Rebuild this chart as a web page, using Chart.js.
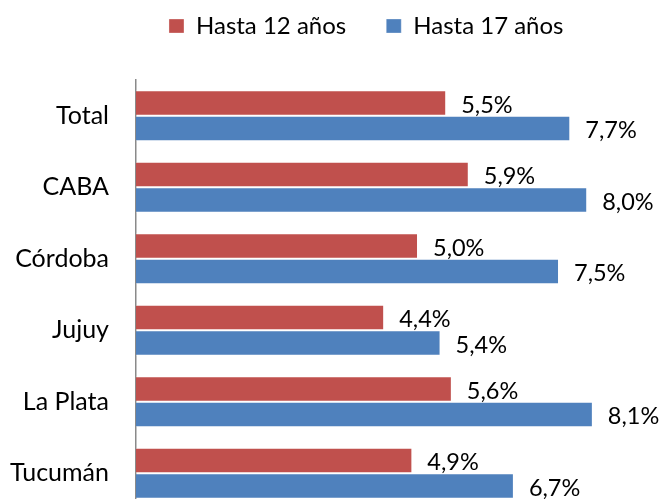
<!DOCTYPE html>
<html>
<head>
<meta charset="utf-8">
<script src="https://cdn.jsdelivr.net/npm/chart.js@4/dist/chart.umd.min.js"></script>
<style>
  html, body { margin: 0; padding: 0; background: #fff; overflow: hidden; }
  canvas { display: block; }
</style>
</head>
<body>
<canvas id="c" width="667" height="551"></canvas>
<script>
const categories = ['Total', 'CABA', 'Córdoba', 'Jujuy', 'La Plata', 'Tucumán'];
const seriesNames = ['Hasta 12 años', 'Hasta 17 años'];
const hasta12 = [5.5, 5.9, 5.0, 4.4, 5.6, 4.9];
const hasta17 = [7.7, 8.0, 7.5, 5.4, 8.1, 6.7];

const FONT = 'Lato';
const LEGEND_SHIFT = 67;

const layoutTweak = {
  id: 'layoutTweak',
  beforeLayout(chart) {
    const lg = chart.legend;
    if (lg && !lg._tw) {
      const f = lg.fit;
      lg.fit = function () { f.call(this); this.height = 106; };
      lg._tw = true;
    }
  },
  beforeDraw(chart) {
    const lg = chart.legend;
    if (lg) { lg.left += LEGEND_SHIFT; lg.right += LEGEND_SHIFT; }
  },
  afterDraw(chart) {
    const lg = chart.legend;
    if (lg) { lg.left -= LEGEND_SHIFT; lg.right -= LEGEND_SHIFT; }
  }
};

const valueLabels = {
  id: 'valueLabels',
  afterDatasetsDraw(chart) {
    const ctx = chart.ctx;
    ctx.save();
    ctx.font = '23.5px ' + FONT;
    ctx.fillStyle = '#000';
    ctx.textAlign = 'left';
    ctx.textBaseline = 'middle';
    chart.data.datasets.forEach((ds, di) => {
      const meta = chart.getDatasetMeta(di);
      meta.data.forEach((bar, i) => {
        const v = ds.data[i];
        const txt = v.toFixed(1).replace('.', ',') + '%';
        ctx.fillText(txt, bar.x + 15, bar.y + 2);
      });
    });
    ctx.restore();
  }
};

new Chart(document.getElementById('c'), {
  type: 'bar',
  data: {
    labels: categories,
    datasets: [
      { label: seriesNames[0], data: hasta12, backgroundColor: '#C0504D',
        borderColor: 'rgba(255,255,255,0.3)', borderWidth: 1 },
      { label: seriesNames[1], data: hasta17, backgroundColor: '#4F81BD',
        borderColor: 'rgba(255,255,255,0.3)', borderWidth: 1 }
    ]
  },
  options: {
    indexAxis: 'y',
    responsive: false,
    animation: false,
    categoryPercentage: 0.713,
    barPercentage: 1.0,
    layout: { padding: { top: -26, right: 68.5, bottom: 0, left: 0 } },
    scales: {
      x: { display: false, min: 0, max: 8.2 },
      y: {
        grid: { display: false, drawTicks: false },
        border: { display: true, color: '#8a8a8a', width: 1.5 },
        ticks: { color: '#000', font: { family: FONT, size: 25 }, padding: 27 },
        afterFit(scale) { scale.width = 136; }
      }
    },
    plugins: {
      legend: {
        position: 'top',
        labels: {
          color: '#000',
          font: { family: FONT, size: 24 },
          boxWidth: 15,
          boxHeight: 14,
          padding: 40
        }
      },
      tooltip: { enabled: false }
    }
  },
  plugins: [layoutTweak, valueLabels]
});
</script>
</body>
</html>
